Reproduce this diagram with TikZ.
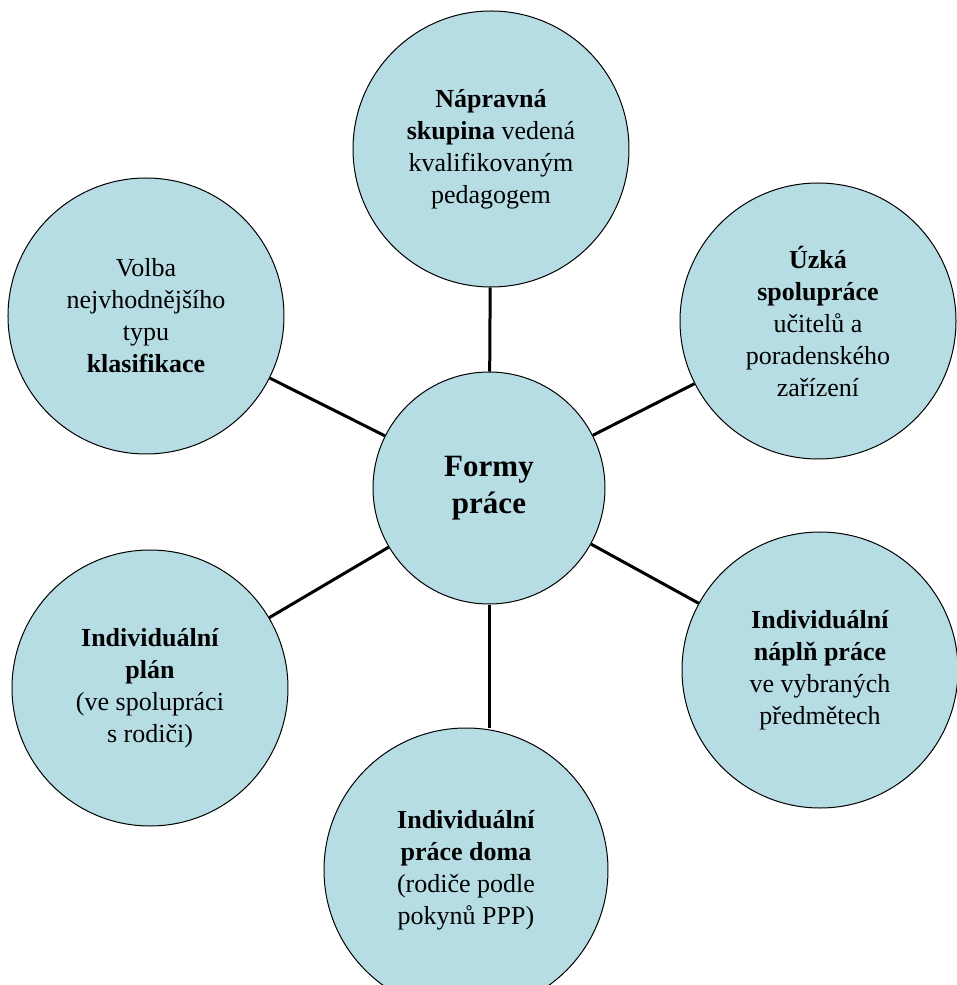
\documentclass[tikz,border=0pt]{standalone}
\usepackage{fontspec}
\setmainfont{Liberation Serif}
\usepackage{tikz}
\usetikzlibrary{positioning}
\definecolor{kruh}{RGB}{183,221,228}
\tikzstyle{forma}=[circle, draw=black, fill=kruh, line width=0.5pt, minimum size=138pt, inner sep=0pt, align=center, font=\fontsize{13pt}{16pt}\selectfont]
\tikzstyle{stred}=[forma, minimum size=116pt, font=\fontsize{15.5pt}{18.5pt}\selectfont\bfseries]
\tikzstyle{spoj}=[line width=1.5pt]

\begin{document}
\begin{tikzpicture}
      \useasboundingbox (-244.5pt,-248.5pt) rectangle (234pt,244pt);
      \node[stred] (fp) at (0,0) {Formy\\práce};

	   \node[forma] (nap) [above of=fp, node distance=169.5pt, xshift=1pt] {\textbf{Nápravná}\\\textbf{skupina} vedená\\kvalifikovaným\\pedagogem};
	   \node[forma] (uzk) [right of=fp, node distance=164.5pt, yshift=83.5pt] {\textbf{Úzká}\\\textbf{spolupráce}\\učitelů a\\poradenského\\zařízení};
	   \node[forma] (npl) [right of=fp, node distance=165.5pt, yshift=-91pt] {\textbf{Individuální}\\\textbf{náplň práce}\\ve vybraných\\předmětech};
	   \node[forma, minimum size=142pt] (dom) [below of=fp, node distance=191pt, xshift=-11.5pt] {\textbf{Individuální}\\\textbf{práce doma}\\(rodiče podle\\pokynů PPP)};
	   \node[forma] (pla) [left of=fp, node distance=169.5pt, yshift=-100pt] {\textbf{Individuální}\\\textbf{plán}\\(ve spolupráci\\s rodiči)};
	   \node[forma] (vol) [left of=fp, node distance=171.5pt, yshift=86pt] {Volba\\nejvhodnějšího\\typu\\\textbf{klasifikace}};

      \draw[spoj] (fp) -- (nap);
      \draw[spoj] (fp) -- (uzk);
      \draw[spoj] (fp) -- (npl);
      \draw[spoj] (fp.south) -- (fp.south |- dom.north);
      \draw[spoj] (fp) -- (pla);
      \draw[spoj] (fp) -- (vol);
  \end{tikzpicture}
\end{document}
